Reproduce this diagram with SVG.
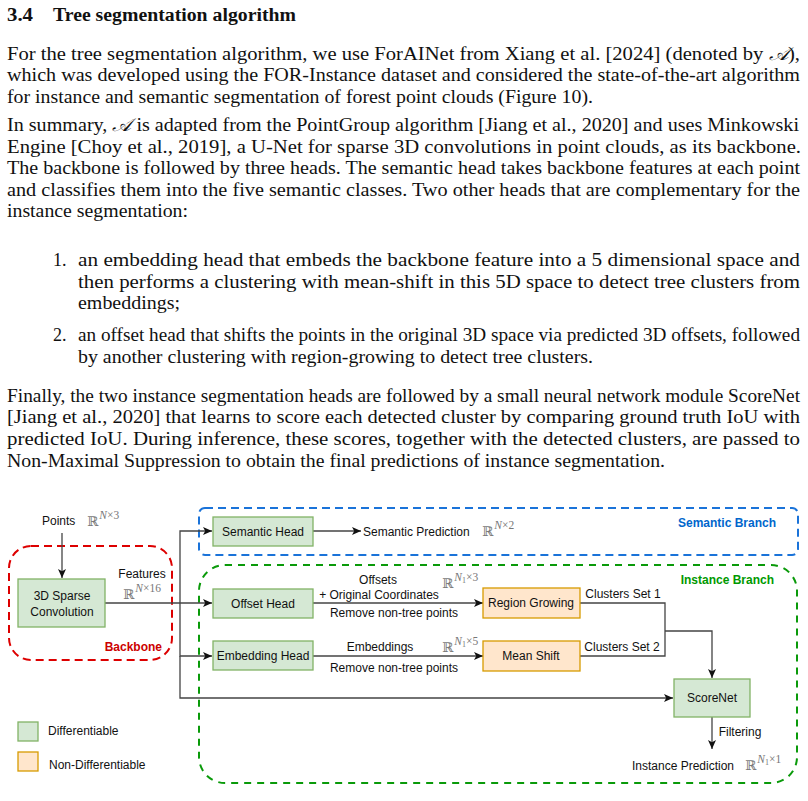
<svg xmlns="http://www.w3.org/2000/svg" width="808" height="801" viewBox="0 0 808 801">
<style>
.body{font-family:"Liberation Serif","Times New Roman",serif;font-size:18px;fill:#111}
.bold{font-weight:bold}
.lbl{font-family:"Liberation Sans",Arial,sans-serif;font-size:12px;fill:#111}
.ctr{text-anchor:middle}
.math{font-family:"DejaVu Serif",serif;font-size:13.5px;fill:#777}
.sup{font-family:"Liberation Serif",serif;font-size:11.5px;fill:#777}
.sub{font-family:"Liberation Serif",serif;font-size:8px;fill:#777}
.it{font-style:italic}
.gbox{fill:#d5e8d4;stroke:#82b366;stroke-width:1.3}
.obox{fill:#ffe6cc;stroke:#d79b00;stroke-width:1.3}
.conn{fill:none;stroke:#444;stroke-width:1.3}
.grp{fill:none;stroke-width:2}
</style>
<defs>
<marker id="arr" markerUnits="userSpaceOnUse" markerWidth="10" markerHeight="10" refX="9" refY="4" orient="auto">
<path d="M0,0 L9,4 L0,8 L2.2,4 z" fill="#111"/>
</marker>
</defs>
<rect width="808" height="801" fill="#fff"/>

<g id="text">
<text class="body bold" x="7" y="21" textLength="26" lengthAdjust="spacingAndGlyphs">3.4</text>
<text class="body bold" x="53" y="21" textLength="243" lengthAdjust="spacingAndGlyphs">Tree segmentation algorithm</text>

<text class="body" x="7" y="59.5" textLength="793" lengthAdjust="spacingAndGlyphs">For the tree segmentation algorithm, we use ForAINet from Xiang et al. [2024] (denoted by <tspan class="it">𝒜</tspan>),</text>
<text class="body" x="7" y="81" textLength="793" lengthAdjust="spacingAndGlyphs">which was developed using the FOR-Instance dataset and considered the state-of-the-art algorithm</text>
<text class="body" x="7" y="102.7" textLength="586" lengthAdjust="spacingAndGlyphs">for instance and semantic segmentation of forest point clouds (Figure 10).</text>

<text class="body" x="7" y="131" textLength="792" lengthAdjust="spacingAndGlyphs">In summary, <tspan class="it">𝒜</tspan> is adapted from the PointGroup algorithm [Jiang et al., 2020] and uses Minkowski</text>
<text class="body" x="7" y="152.5" textLength="794" lengthAdjust="spacingAndGlyphs">Engine [Choy et al., 2019], a U-Net for sparse 3D convolutions in point clouds, as its backbone.</text>
<text class="body" x="7" y="174" textLength="793" lengthAdjust="spacingAndGlyphs">The backbone is followed by three heads. The semantic head takes backbone features at each point</text>
<text class="body" x="7" y="195.5" textLength="793" lengthAdjust="spacingAndGlyphs">and classifies them into the five semantic classes. Two other heads that are complementary for the</text>
<text class="body" x="7" y="217" textLength="181" lengthAdjust="spacingAndGlyphs">instance segmentation:</text>

<text class="body" x="53" y="266">1.</text>
<text class="body" x="78" y="266" textLength="722" lengthAdjust="spacingAndGlyphs">an embedding head that embeds the backbone feature into a 5 dimensional space and</text>
<text class="body" x="78" y="287.5" textLength="722" lengthAdjust="spacingAndGlyphs">then performs a clustering with mean-shift in this 5D space to detect tree clusters from</text>
<text class="body" x="78" y="309" textLength="102" lengthAdjust="spacingAndGlyphs">embeddings;</text>

<text class="body" x="53" y="341">2.</text>
<text class="body" x="78" y="341" textLength="722" lengthAdjust="spacingAndGlyphs">an offset head that shifts the points in the original 3D space via predicted 3D offsets, followed</text>
<text class="body" x="78" y="363" textLength="515" lengthAdjust="spacingAndGlyphs">by another clustering with region-growing to detect tree clusters.</text>

<text class="body" x="7" y="401.5" textLength="793" lengthAdjust="spacingAndGlyphs">Finally, the two instance segmentation heads are followed by a small neural network module ScoreNet</text>
<text class="body" x="7" y="423" textLength="793" lengthAdjust="spacingAndGlyphs">[Jiang et al., 2020] that learns to score each detected cluster by comparing ground truth IoU with</text>
<text class="body" x="7" y="445" textLength="793" lengthAdjust="spacingAndGlyphs">predicted IoU. During inference, these scores, together with the detected clusters, are passed to</text>
<text class="body" x="7" y="466.5" textLength="658" lengthAdjust="spacingAndGlyphs">Non-Maximal Suppression to obtain the final predictions of instance segmentation.</text>
</g>

<g id="groups">
<g id="backbone">
<rect class="grp" x="9" y="546" width="163" height="114" rx="22" ry="22" stroke="#dd0000" stroke-dasharray="8,5"/>
<text class="lbl bold" x="162" y="651" text-anchor="end" style="fill:#cc0000">Backbone</text>
</g>
<g id="semantic-branch">
<rect class="grp" x="199" y="508" width="599" height="47" rx="6" ry="6" stroke="#1a73d9" stroke-dasharray="8,5"/>
<text class="lbl bold" x="776" y="527" text-anchor="end" style="fill:#0066cc">Semantic Branch</text>
</g>
<g id="instance-branch">
<rect class="grp" x="199" y="565" width="598" height="218" rx="26" ry="26" stroke="#0a9a0a" stroke-dasharray="7,6"/>
<text class="lbl bold" x="774" y="584" text-anchor="end" style="fill:#009900">Instance Branch</text>
</g>
</g>

<g id="connectors">
<path class="conn" d="M62,533 V578" marker-end="url(#arr)"/>
<path class="conn" d="M105,603 H212" marker-end="url(#arr)"/>
<path class="conn" d="M180,603 V531 H212" marker-end="url(#arr)"/>
<path class="conn" d="M180,603 V656 H212" marker-end="url(#arr)"/>
<path class="conn" d="M180,656 V698 H673" marker-end="url(#arr)"/>
<path class="conn" d="M313,531 H361" marker-end="url(#arr)"/>
<path class="conn" d="M313,603 H483" marker-end="url(#arr)"/>
<path class="conn" d="M313,656 H483" marker-end="url(#arr)"/>
<path class="conn" d="M580,603 H665 V656 H580" stroke="#222"/>
<path class="conn" d="M665,631 H712 V678" marker-end="url(#arr)"/>
<path class="conn" d="M712,717 V749" marker-end="url(#arr)"/>
</g>

<g id="labels">
<text class="lbl" x="42" y="525">Points</text>
<text x="87" y="526"><tspan class="math">ℝ</tspan><tspan class="sup it" dx="1" dy="-7">N</tspan><tspan class="sup">×3</tspan></text>
<text class="lbl ctr" x="142" y="578">Features</text>
<text x="123" y="599"><tspan class="math">ℝ</tspan><tspan class="sup it" dx="1" dy="-7">N</tspan><tspan class="sup">×16</tspan></text>
<text class="lbl" x="363" y="536">Semantic Prediction</text>
<text x="482" y="536"><tspan class="math">ℝ</tspan><tspan class="sup it" dx="1" dy="-7">N</tspan><tspan class="sup">×2</tspan></text>
<text class="lbl ctr" x="378" y="584">Offsets</text>
<text class="lbl ctr" x="379" y="599">+ Original Coordinates</text>
<text class="lbl ctr" x="394" y="617">Remove non-tree points</text>
<text x="442" y="588"><tspan class="math">ℝ</tspan><tspan class="sup it" dx="1" dy="-7">N</tspan><tspan class="sub" dy="2">1</tspan><tspan class="sup" dy="-2">×3</tspan></text>
<text class="lbl ctr" x="380" y="651">Embeddings</text>
<text class="lbl ctr" x="394" y="672">Remove non-tree points</text>
<text x="442" y="652"><tspan class="math">ℝ</tspan><tspan class="sup it" dx="1" dy="-7">N</tspan><tspan class="sub" dy="2">1</tspan><tspan class="sup" dy="-2">×5</tspan></text>
<text class="lbl ctr" x="623" y="598">Clusters Set 1</text>
<text class="lbl ctr" x="622" y="651">Clusters Set 2</text>
<text class="lbl ctr" x="740" y="736">Filtering</text>
<text class="lbl ctr" x="683" y="770">Instance Prediction</text>
<text x="745" y="770"><tspan class="math">ℝ</tspan><tspan class="sup it" dx="1" dy="-7">N</tspan><tspan class="sub" dy="2">1</tspan><tspan class="sup" dy="-2">×1</tspan></text>
</g>

<g id="node-sparse-conv">
<rect class="gbox" x="18" y="579" width="87" height="48"/>
<text class="lbl ctr" x="62" y="600">3D Sparse</text>
<text class="lbl ctr" x="62" y="616">Convolution</text>
</g>
<g id="node-semantic-head">
<rect class="gbox" x="213" y="517" width="100" height="29"/>
<text class="lbl ctr" x="263" y="536">Semantic Head</text>
</g>
<g id="node-offset-head">
<rect class="gbox" x="213" y="589" width="100" height="29"/>
<text class="lbl ctr" x="263" y="608">Offset Head</text>
</g>
<g id="node-embedding-head">
<rect class="gbox" x="213" y="641" width="100" height="29"/>
<text class="lbl ctr" x="263" y="660">Embedding Head</text>
</g>
<g id="node-region-growing">
<rect class="obox" x="483" y="588" width="97" height="30"/>
<text class="lbl ctr" x="531" y="607">Region Growing</text>
</g>
<g id="node-mean-shift">
<rect class="obox" x="483" y="641" width="97" height="30"/>
<text class="lbl ctr" x="531" y="660">Mean Shift</text>
</g>
<g id="node-scorenet">
<rect class="gbox" x="674" y="679" width="76" height="38"/>
<text class="lbl ctr" x="712" y="702">ScoreNet</text>
</g>
<g id="legend">
<rect class="gbox" x="18" y="722" width="20" height="19"/>
<text class="lbl" x="48" y="735" font-size="11">Differentiable</text>
<rect class="obox" x="18" y="752" width="20" height="19"/>
<text class="lbl" x="49" y="769" font-size="11">Non-Differentiable</text>
</g>
</svg>
